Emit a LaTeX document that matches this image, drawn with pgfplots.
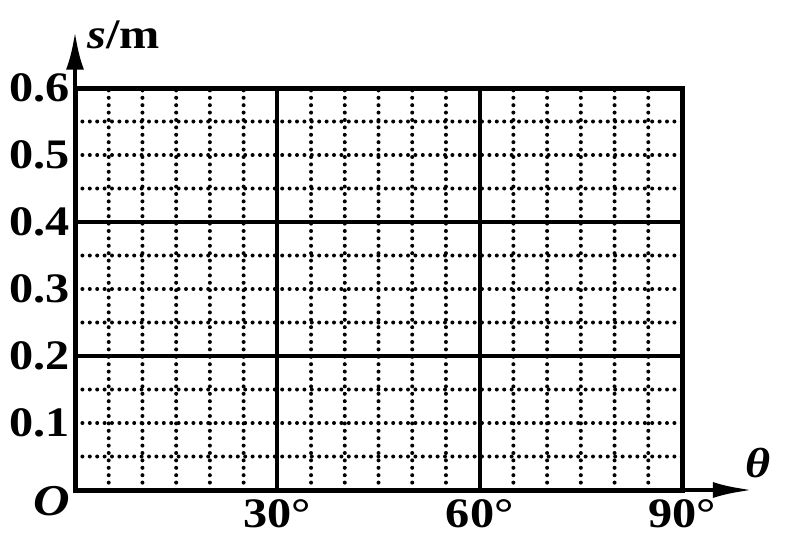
\documentclass[border=0pt]{standalone}
\usepackage{fontspec}
\setmainfont{Liberation Serif}[FakeStretch=1.15]
\usepackage{pgfplots}
\pgfplotsset{compat=1.18}
\usetikzlibrary{arrows.meta}
\begin{document}
\begin{tikzpicture}[x=1pt,y=1pt]
\useasboundingbox (-37.5pt,-28pt) rectangle (355.5pt,245pt);
\begin{axis}[
  at={(0,0)}, anchor=south west,
  scale only axis, width=303.5pt, height=201pt,
  xmin=0, xmax=90, ymin=0, ymax=0.6,
  clip=false,
  axis line style={line width=2.5pt},
  xtick={30,60,90},
  xticklabels={30°,60°,90°},
  ytick={0.1,0.2,0.3,0.4,0.5,0.6},
  yticklabels={0.1,0.2,0.3,0.4,0.5,0.6},
  minor xtick={5,10,15,20,25,35,40,45,50,55,65,70,75,80,85},
  minor ytick={0.05,0.1,0.15,0.25,0.3,0.35,0.45,0.5,0.55},
  xmajorgrids, ymajorgrids=false, xminorgrids, yminorgrids,
  extra y ticks={0.2,0.4},
  extra y tick labels={},
  extra y tick style={grid=major},
  major grid style={line width=2pt, black, solid},
  minor grid style={line width=2pt, black, dash pattern=on 0pt off 3.7pt, line cap=round},
  major tick length=0pt, minor tick length=0pt,
  tick label style={font=\fontsize{21}{22}\selectfont\bfseries},
  /pgf/number format/assume math mode=true,
  xticklabel style={yshift=-1pt},
  yticklabel style={xshift=1pt},
]
\addplot[draw=none, forget plot] coordinates {(0,0) (90,0.6)};
\draw[line width=2.2pt, -{Latex[length=20pt,width=8pt]}] (axis cs:90,0) -- (axis cs:100.5,0);
\draw[line width=2.2pt, -{Latex[length=19pt,width=9pt]}] (axis cs:0,0.6) -- (axis cs:0,0.684);
\node[font=\fontsize{21}{22}\selectfont\bfseries] at (axis cs:101.3,0.040) {\itshape θ};
\node[font=\fontsize{21}{22}\selectfont\bfseries, anchor=west, inner sep=0pt] at (axis cs:1.8,0.679) {\textit{s}/m};
\node[font=\fontsize{22}{22}\selectfont\bfseries] at (axis cs:-3.5,-0.016) {\itshape O};
\end{axis}
\end{tikzpicture}
\end{document}
